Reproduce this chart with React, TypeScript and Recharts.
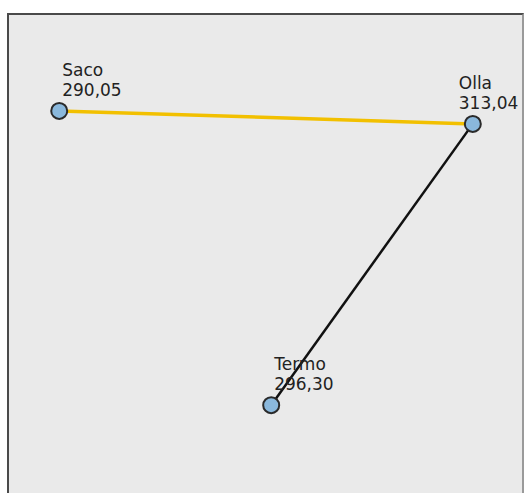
import React from 'react'
import { ScatterChart, Scatter, XAxis, YAxis } from 'recharts'

// node layout (0-100 space, y measured from top) and values
const nodeNames = ['Saco', 'Olla', 'Termo']
const nodeX = [10.1, 90.1, 51.1]
const nodeY = [20.4, 23.1, 81.7]
const nodeValues = ['290,05', '313,04', '296,30']

// links between nodes (by index) and their colours
const linkFrom = [0, 1]
const linkTo = [1, 2]
const linkColors = ['#f2c000', '#111111']
const linkWidths = [3.5, 2.5]

const WIDTH = 517
const HEIGHT = 480
const FONT = 17

const nodes = nodeNames.map((name, i) => ({
  name,
  x: nodeX[i],
  y: nodeY[i],
  value: nodeValues[i],
}))

const links = linkFrom.map((f, i) => ({
  data: [nodes[f], nodes[linkTo[i]]],
  color: linkColors[i],
  width: linkWidths[i],
}))

function NoShape(): React.JSX.Element {
  return <g />
}

function NodeShape(props: any): React.JSX.Element {
  const { cx, cy, payload } = props
  // keep the label inside the panel
  const textW = payload.value.length * FONT * 0.6
  const tx = Math.min(cx + 3, WIDTH - 4 - textW)
  const textStyle = {
    fontSize: FONT,
    fill: '#222',
    fontFamily: "'DejaVu Sans', Verdana, sans-serif",
  }
  return (
    <g>
      <circle cx={cx} cy={cy} r={8} fill="#8ab8dc" stroke="#2a2a2a" strokeWidth={2} />
      <text x={tx} y={cy - 35} {...textStyle}>
        {payload.name}
      </text>
      <text x={tx} y={cy - 15} {...textStyle}>
        {payload.value}
      </text>
    </g>
  )
}

export default function App(): React.JSX.Element {
  return (
    <div
      style={{
        position: 'absolute',
        left: 7,
        top: 13,
        width: WIDTH,
        height: HEIGHT,
        background: '#eaeaea',
        boxSizing: 'border-box',
        borderTop: '2px solid #4a4a4a',
        borderLeft: '2px solid #4a4a4a',
        borderRight: '2px solid #9a9a9a',
      }}
    >
      <div style={{ position: 'absolute', left: -2, top: -2 }}>
        <ScatterChart width={WIDTH} height={HEIGHT} margin={{ top: 0, right: 0, bottom: 0, left: 0 }}>
          <XAxis type="number" dataKey="x" domain={[0, 100]} hide />
          <YAxis type="number" dataKey="y" domain={[0, 100]} reversed hide />
          {links.map((l, i) => (
            <Scatter
              key={i}
              data={l.data}
              line={{ stroke: l.color, strokeWidth: l.width }}
              shape={NoShape}
              isAnimationActive={false}
            />
          ))}
          <Scatter data={nodes} shape={NodeShape} isAnimationActive={false} />
        </ScatterChart>
      </div>
    </div>
  )
}
